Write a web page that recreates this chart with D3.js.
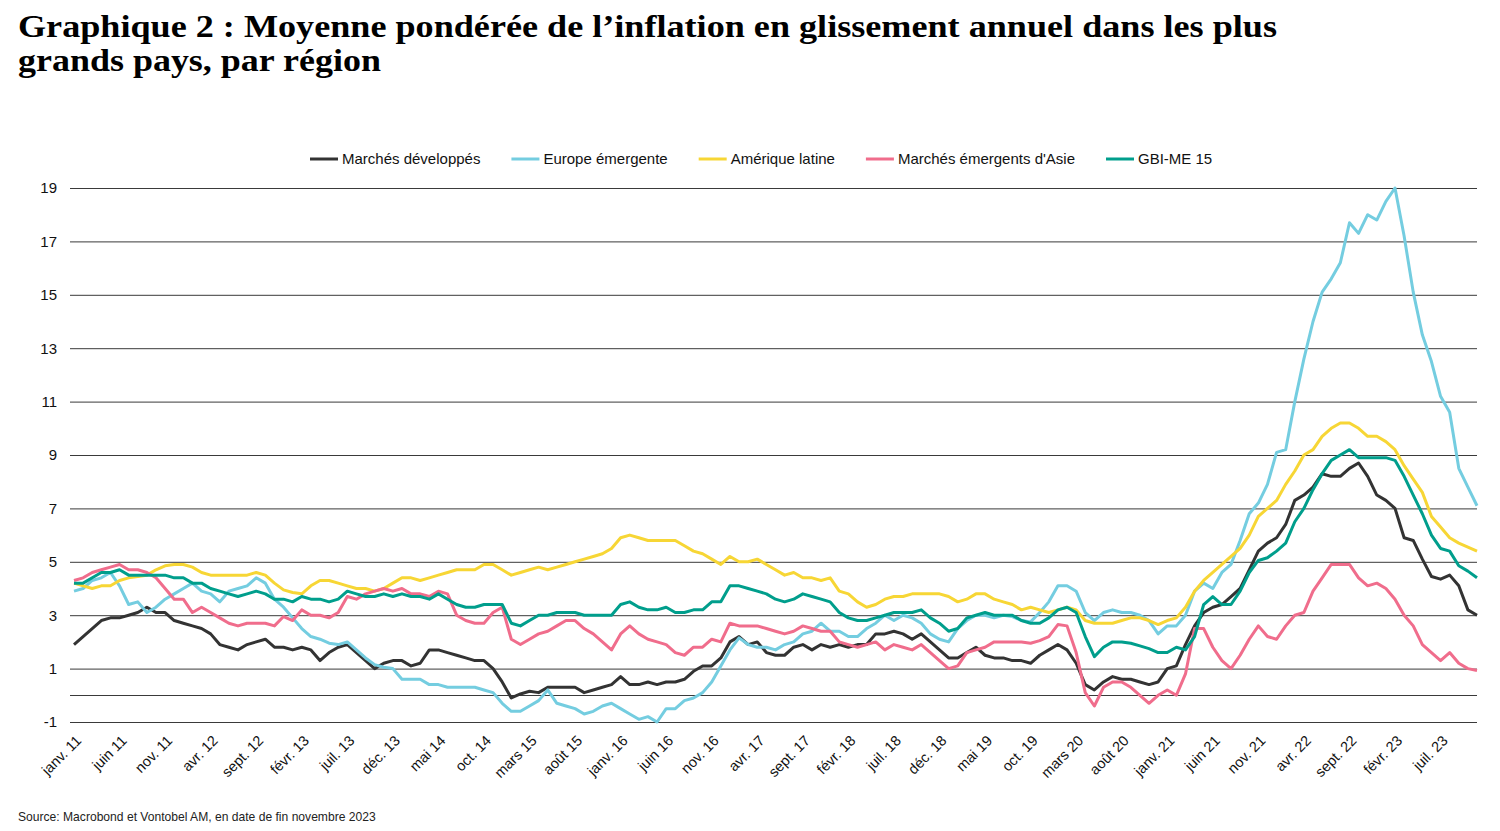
<!DOCTYPE html>
<html lang="fr">
<head>
<meta charset="utf-8">
<title>Graphique 2</title>
<script src="https://cdn.jsdelivr.net/npm/d3@7"></script>
<style>
  body { margin: 0; background: #fff; }
  svg { display: block; font-family: "Liberation Sans", Arial, sans-serif; }
</style>
</head>
<body>
<div id="chart"></div>
<script>
// month categories, janv. 2011 -> nov. 2023
var monthNames = ["janv.", "févr.", "mars", "avr.", "mai", "juin", "juil.", "août", "sept.", "oct.", "nov.", "déc."];
var years = ["11", "12", "13", "14", "15", "16", "17", "18", "19", "20", "21", "22", "23"];
var lastMonth = 10; // nov. 23

var yTicks = [-1, 1, 3, 5, 7, 9, 11, 13, 15, 17, 19];

// series, one value per month
var developpes = [
  1.9, 2.2, 2.5, 2.8, 2.9, 2.9, 3.0, 3.1, 3.3, 3.1, 3.1, 2.8,
  2.7, 2.6, 2.5, 2.3, 1.9, 1.8, 1.7, 1.9, 2.0, 2.1, 1.8, 1.8,
  1.7, 1.8, 1.7, 1.3, 1.6, 1.8, 1.9, 1.6, 1.3, 1.0, 1.2, 1.3,
  1.3, 1.1, 1.2, 1.7, 1.7, 1.6, 1.5, 1.4, 1.3, 1.3, 1.0, 0.5,
  -0.1, 0.05, 0.15, 0.1, 0.3, 0.3, 0.3, 0.3, 0.1, 0.2, 0.3, 0.4,
  0.7, 0.4, 0.4, 0.5, 0.4, 0.5, 0.5, 0.6, 0.9, 1.1, 1.1, 1.4,
  2.0, 2.2, 1.9, 2.0, 1.6, 1.5, 1.5, 1.8, 1.9, 1.7, 1.9, 1.8,
  1.9, 1.8, 1.9, 1.9, 2.3, 2.3, 2.4, 2.3, 2.1, 2.3, 2.0, 1.7,
  1.4, 1.4, 1.6, 1.8, 1.5, 1.4, 1.4, 1.3, 1.3, 1.2, 1.5, 1.7,
  1.9, 1.7, 1.2, 0.4, 0.2, 0.5, 0.7, 0.6, 0.6, 0.5, 0.4, 0.5,
  1.0, 1.1, 1.9, 2.6, 3.1, 3.3, 3.4, 3.7, 4.0, 4.7, 5.4, 5.7,
  5.9, 6.4, 7.3, 7.5, 7.8, 8.3, 8.2, 8.2, 8.5, 8.7, 8.2, 7.5,
  7.3, 7.0, 5.9, 5.8, 5.1, 4.45, 4.35, 4.5, 4.1, 3.2, 3.0
];
var europeEmergente = [
  3.9, 4.0, 4.3, 4.4, 4.6, 4.1, 3.4, 3.5, 3.1, 3.3, 3.6, 3.8,
  4.0, 4.2, 3.9, 3.8, 3.5, 3.9, 4.0, 4.1, 4.4, 4.2, 3.6, 3.3,
  2.9, 2.5, 2.2, 2.1, 1.95, 1.9, 2.0, 1.7, 1.4, 1.15, 1.05, 1.0,
  0.6, 0.6, 0.6, 0.4, 0.4, 0.3, 0.3, 0.3, 0.3, 0.2, 0.1, -0.3,
  -0.6, -0.6, -0.4, -0.2, 0.2, -0.3, -0.4, -0.5, -0.7, -0.6, -0.4, -0.3,
  -0.5, -0.7, -0.9, -0.8, -1.0, -0.5, -0.5, -0.2, -0.1, 0.1, 0.5, 1.1,
  1.7, 2.15, 1.9, 1.8, 1.8, 1.7, 1.9, 2.0, 2.3, 2.4, 2.7, 2.4,
  2.4, 2.2, 2.2, 2.5, 2.7, 3.0, 2.8, 3.0, 2.9, 2.7, 2.3, 2.1,
  2.0, 2.5, 2.8, 3.0, 3.0, 2.9, 3.0, 2.95, 2.8, 2.75, 3.1, 3.5,
  4.1, 4.1, 3.9, 3.1, 2.8, 3.1, 3.2, 3.1, 3.1, 3.0, 2.8, 2.3,
  2.6, 2.6, 3.0, 3.9, 4.2, 4.0, 4.6, 4.9, 5.8, 6.8, 7.2, 7.9,
  9.1, 9.2, 11.0, 12.6, 14.0, 15.1, 15.6, 16.2, 17.7, 17.3, 18.0, 17.8,
  18.5, 19.0, 17.2, 15.1, 13.5, 12.5, 11.2, 10.6, 8.5, 7.8, 7.1
];
var ameriqueLatine = [
  4.2, 4.1, 4.0, 4.1, 4.1, 4.3, 4.4, 4.45, 4.5, 4.7, 4.85, 4.9,
  4.9, 4.8, 4.6, 4.5, 4.5, 4.5, 4.5, 4.5, 4.6, 4.5, 4.2, 3.95,
  3.85, 3.8, 4.1, 4.3, 4.3, 4.2, 4.1, 4.0, 4.0, 3.9, 4.0, 4.2,
  4.4, 4.4, 4.3, 4.4, 4.5, 4.6, 4.7, 4.7, 4.7, 4.9, 4.9, 4.7,
  4.5, 4.6, 4.7, 4.8, 4.7, 4.8, 4.9, 5.0, 5.1, 5.2, 5.3, 5.5,
  5.9, 6.0, 5.9, 5.8, 5.8, 5.8, 5.8, 5.6, 5.4, 5.3, 5.1, 4.9,
  5.2, 5.0, 5.0, 5.1, 4.9, 4.7, 4.5, 4.6, 4.4, 4.4, 4.3, 4.4,
  3.9, 3.8, 3.5, 3.3, 3.4, 3.6, 3.7, 3.7, 3.8, 3.8, 3.8, 3.8,
  3.7, 3.5, 3.6, 3.8, 3.8, 3.6, 3.5, 3.4, 3.2, 3.3, 3.2, 3.1,
  3.2, 3.3, 3.2, 2.8, 2.7, 2.7, 2.7, 2.8, 2.9, 2.9, 2.8, 2.65,
  2.8, 2.9, 3.3, 3.9, 4.3, 4.6, 4.9, 5.2, 5.5, 6.0, 6.7, 7.0,
  7.3, 7.9, 8.4, 9.0, 9.2, 9.7, 10.0, 10.2, 10.2, 10.0, 9.7, 9.7,
  9.5, 9.2, 8.6, 8.1, 7.6, 6.7, 6.3, 5.9, 5.7, 5.55, 5.4
];
var asie = [
  4.3, 4.4, 4.6, 4.7, 4.8, 4.9, 4.7, 4.7, 4.6, 4.4, 4.0, 3.6,
  3.6, 3.1, 3.3, 3.1, 2.9, 2.7, 2.6, 2.7, 2.7, 2.7, 2.6, 2.95,
  2.8, 3.2, 3.0, 3.0, 2.9, 3.1, 3.7, 3.6, 3.8, 3.9, 4.0, 3.9,
  4.0, 3.8, 3.8, 3.7, 3.9, 3.8, 3.0, 2.8, 2.7, 2.7, 3.1, 3.3,
  2.1, 1.9, 2.1, 2.3, 2.4, 2.6, 2.8, 2.8, 2.5, 2.3, 2.0, 1.7,
  2.3, 2.6, 2.3, 2.1, 2.0, 1.9, 1.6, 1.5, 1.8, 1.8, 2.1, 2.0,
  2.7, 2.6, 2.6, 2.6, 2.5, 2.4, 2.3, 2.4, 2.6, 2.5, 2.4, 2.4,
  2.0, 1.9, 1.8, 1.9, 2.0, 1.7, 1.9, 1.8, 1.7, 1.9, 1.6, 1.3,
  1.0, 1.1, 1.6, 1.7, 1.8, 2.0, 2.0, 2.0, 2.0, 1.95, 2.05, 2.2,
  2.65, 2.6, 1.6, 0.1, -0.4, 0.3, 0.5, 0.5, 0.3, 0.0, -0.3, 0.0,
  0.2, 0.0, 0.8, 2.5, 2.5, 1.8, 1.3, 1.0, 1.5, 2.1, 2.6, 2.2,
  2.1, 2.6, 3.0, 3.1, 3.9, 4.4, 4.9, 4.9, 4.9, 4.4, 4.1, 4.2,
  4.0, 3.6, 3.0, 2.6, 1.9, 1.6, 1.3, 1.6, 1.2, 1.0, 0.93
];
var gbiEm15 = [
  4.2, 4.2, 4.4, 4.6, 4.6, 4.7, 4.5, 4.5, 4.5, 4.5, 4.5, 4.4,
  4.4, 4.2, 4.2, 4.0, 3.9, 3.8, 3.7, 3.8, 3.9, 3.8, 3.6, 3.6,
  3.5, 3.7, 3.6, 3.6, 3.5, 3.6, 3.9, 3.8, 3.7, 3.7, 3.8, 3.7,
  3.8, 3.7, 3.7, 3.6, 3.8, 3.6, 3.4, 3.3, 3.3, 3.4, 3.4, 3.4,
  2.7, 2.6, 2.8, 3.0, 3.0, 3.1, 3.1, 3.1, 3.0, 3.0, 3.0, 3.0,
  3.4, 3.5, 3.3, 3.2, 3.2, 3.3, 3.1, 3.1, 3.2, 3.2, 3.5, 3.5,
  4.1, 4.1, 4.0, 3.9, 3.8, 3.6, 3.5, 3.6, 3.8, 3.7, 3.6, 3.5,
  3.1, 2.9, 2.8, 2.8, 2.9, 3.0, 3.1, 3.1, 3.1, 3.2, 2.9, 2.7,
  2.4, 2.5, 2.9, 3.0, 3.1, 3.0, 3.0, 3.0, 2.8, 2.7, 2.7, 2.9,
  3.2, 3.3, 3.1, 2.2, 1.45, 1.8, 2.0, 2.0, 1.95, 1.85, 1.75, 1.6,
  1.6, 1.8, 1.7, 2.2, 3.4, 3.7, 3.4, 3.4, 3.9, 4.6, 5.05, 5.15,
  5.4, 5.7, 6.5, 7.0, 7.7, 8.3, 8.8, 9.0, 9.2, 8.9, 8.9, 8.9,
  8.9, 8.8, 8.2, 7.5, 6.8, 6.0, 5.5, 5.4, 4.85, 4.65, 4.4
];

var seriesNames = ["Marchés développés", "Europe émergente", "Amérique latine", "Marchés émergents d'Asie", "GBI-ME 15"];
var seriesColors = ["#333333", "#74cde0", "#f7d635", "#f06d8c", "#009e8c"];
var seriesValues = [developpes, europeEmergente, ameriqueLatine, asie, gbiEm15];

var months = [];
years.forEach(function(yy, yi) {
  monthNames.forEach(function(m, mi) {
    if (yi < years.length - 1 || mi <= lastMonth) months.push(m + " " + yy);
  });
});

var width = 1500;
var height = 831;

var svg = d3
  .select("#chart")
  .append("svg")
  .attr("width", width)
  .attr("height", height);

// title, two lines, stretched a little to the original's width
var titleLines = [
  { text: "Graphique 2 : Moyenne pondérée de l’inflation en glissement annuel dans les plus", y: 37, w: 1259 },
  { text: "grands pays, par région", y: 71, w: 363 }
];
titleLines.forEach(function(l) {
  svg.append("text")
    .attr("x", 18)
    .attr("y", l.y)
    .attr("textLength", l.w)
    .attr("lengthAdjust", "spacingAndGlyphs")
    .style("font-family", "'Liberation Serif', 'DejaVu Serif', serif")
    .style("font-weight", "bold")
    .style("font-size", "30.5px")
    .style("fill", "#000")
    .text(l.text);
});

var x = d3.scalePoint()
  .domain(d3.range(months.length))
  .range([74, 1477]);

var y = d3.scaleLinear()
  .domain([-1, 19])
  .range([722, 188]);

var plotLeft = 70;
var plotRight = 1477;

// y axis + gridlines
var yAxis = svg.append("g")
  .attr("transform", "translate(" + plotLeft + ",0)")
  .call(d3.axisLeft(y)
    .tickValues(yTicks)
    .tickSize(-(plotRight - plotLeft))
    .tickPadding(13)
    .tickFormat(function(d) { return String(d); }));
yAxis.select(".domain").remove();
yAxis.selectAll(".tick line").attr("stroke", "#3a3a3a").attr("stroke-width", 1);
yAxis.selectAll(".tick text")
  .style("font-size", "15px")
  .style("fill", "#111");

// zero line
svg.append("line")
  .attr("x1", plotLeft)
  .attr("x2", plotRight)
  .attr("y1", Math.round(y(0)) + 0.5)
  .attr("y2", Math.round(y(0)) + 0.5)
  .attr("stroke", "#3a3a3a")
  .attr("stroke-width", 1);

// x axis labels
var xAxis = svg.append("g")
  .attr("transform", "translate(0," + y(-1) + ")")
  .call(d3.axisBottom(x)
    .tickValues(d3.range(0, months.length, 5))
    .tickSize(0)
    .tickFormat(function(i) { return months[i]; }));
xAxis.select(".domain").remove();
xAxis.selectAll(".tick text")
  .attr("x", 0)
  .attr("y", 0)
  .attr("dy", "0.35em")
  .attr("transform", "translate(4,16) rotate(-45)")
  .style("text-anchor", "end")
  .style("font-size", "14.5px")
  .style("fill", "#111");

// lines
var line = d3.line()
  .x(function(d, i) { return x(i); })
  .y(function(d) { return y(d); });

svg.append("g")
  .selectAll("path")
  .data(seriesValues)
  .enter()
  .append("path")
  .attr("d", line)
  .attr("fill", "none")
  .attr("stroke", function(d, i) { return seriesColors[i]; })
  .attr("stroke-width", 3)
  .attr("stroke-linejoin", "round");

// legend
var legend = svg.append("g").attr("transform", "translate(0,159)");
var lx = 310;
seriesNames.forEach(function(name, i) {
  legend.append("line")
    .attr("x1", lx).attr("x2", lx + 28)
    .attr("y1", 0).attr("y2", 0)
    .attr("stroke", seriesColors[i])
    .attr("stroke-width", 3);
  var t = legend.append("text")
    .attr("x", lx + 32)
    .attr("y", 0)
    .attr("dy", "0.35em")
    .style("font-size", "15px")
    .style("fill", "#111")
    .text(name);
  lx += 32 + t.node().getComputedTextLength() + 31;
});

// source
svg.append("text")
  .attr("x", 18)
  .attr("y", 821)
  .style("font-size", "12.1px")
  .style("fill", "#222")
  .text("Source: Macrobond et Vontobel AM, en date de fin novembre 2023");
</script>
</body>
</html>
